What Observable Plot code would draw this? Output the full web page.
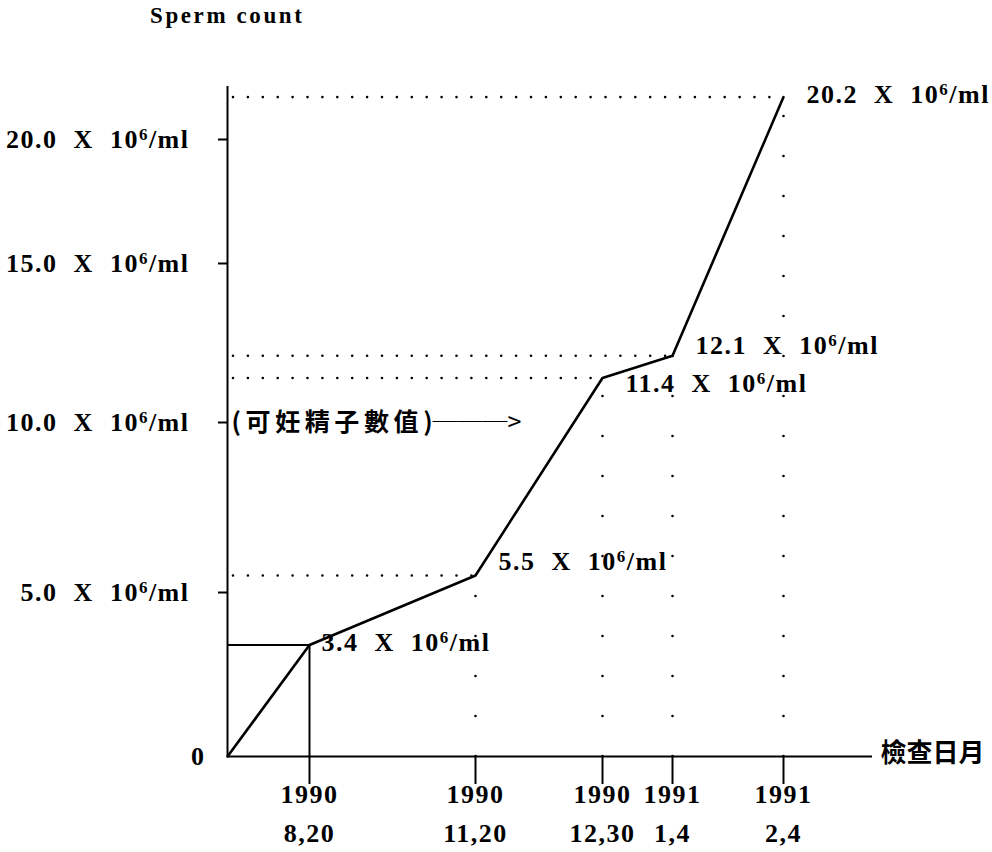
<!DOCTYPE html>
<html><head><meta charset="utf-8">
<script src="https://cdn.jsdelivr.net/npm/d3@7"></script>
<script src="https://cdn.jsdelivr.net/npm/@observablehq/plot@0.6"></script>
<style>
body{margin:0;background:#fff;}
#wrap{position:relative;width:992px;height:852px;}
#title{position:absolute;left:150px;top:3px;font-family:"Liberation Serif",serif;font-weight:bold;font-size:23px;letter-spacing:2.6px;color:#000;}
</style></head><body>
<div id="wrap"><div id="title">Sperm count</div></div>
<script>
// ---- data ----
const visitIndex = [0, 1, 2, 3, 4, 5];              // 0 = origin, 1..5 = test dates
const counts = [0, 3.4, 5.5, 11.4, 12.1, 20.2];      // sperm count, 10^6/ml
const years = ["1990", "1990", "1990", "1991", "1991"];
const monthDays = ["8,20", "11,20", "12,30", "1,4", "2,4"];
const yTicks = [5, 10, 15, 20];
const unitText = "\u00a0\u00a0X\u00a0\u00a010⁶/ml";
const xAxisLabel = "檢查日月";
const noteLabel = "(可妊精子數值)";
const noteArrow = "───>";
const noteLevel = 10;

const points = visitIndex.map((i, k) => ({i, v: counts[k]}));
const measured = points.slice(1);
const firstPoint = points.slice(1, 2);
const laterPoints = points.slice(2);

const FS = 26;
const cjk = "'Noto Sans CJK TC', 'Noto Sans CJK SC', sans-serif";
// label nudges (style only)
const labelDx = [12, 23, 23, 23, 23];
const labelDy = [-2, -14, 6, -10, -2];

const chart = Plot.plot({
  width: 992,
  height: 852,
  marginLeft: 227,
  marginRight: 120,
  marginTop: 86,
  marginBottom: 96,
  style: "font-family: 'Liberation Serif', serif; font-size: 26px; font-weight: bold; letter-spacing: 1.5px; background: white; color: black; overflow: visible;",
  x: {type: "linear", domain: [0, 1, 2, 3, 4, 5], range: [227, 309, 475, 602, 672, 783]},
  y: {type: "linear", domain: [0, 5, 10, 15, 20, 20.25], range: [756, 592, 422, 263, 139, 86]},
  marks: [
    // dotted guides
    Plot.ruleY(laterPoints, {x1: 0, x2: "i", y: "v", stroke: "black", strokeWidth: 2.6, strokeDasharray: "0,14.9", strokeLinecap: "round", strokeDashoffset: -6}),
    Plot.ruleX(laterPoints, {x: "i", y1: 0, y2: "v", stroke: "black", strokeWidth: 2.6, strokeDasharray: "0,40", strokeLinecap: "round"}),
    // solid guides for first visit
    Plot.ruleY(firstPoint, {x1: 0, x2: "i", y: "v", stroke: "black", strokeWidth: 2}),
    Plot.ruleX(firstPoint, {x: "i", y1: 0, y2: "v", stroke: "black", strokeWidth: 2}),
    // axes lines
    Plot.ruleY([0], {stroke: "black", strokeWidth: 2}),
    Plot.ruleX([0], {stroke: "black", strokeWidth: 2}),
    Plot.axisY({ticks: yTicks, tickSize: 9, tickPadding: 29, strokeWidth: 2, label: null,
      tickFormat: d => d.toFixed(1) + unitText, fontSize: FS, fontWeight: "bold"}),
    Plot.text([0], {x: 0, y: d => d, text: d => String(d), textAnchor: "end", dx: -22, fontSize: FS, fontWeight: "bold"}),
    Plot.axisX({ticks: [1, 2, 3, 4, 5], tickSize: 28, tickPadding: -9, strokeWidth: 2, label: null,
      tickFormat: i => years[i - 1] + "\n" + monthDays[i - 1], lineHeight: 1.5, fontSize: FS, fontWeight: "bold"}),
    Plot.text([xAxisLabel], {frameAnchor: "bottom-right", textAnchor: "start", lineAnchor: "middle", dx: 8, dy: -3, fontFamily: cjk, fontSize: 26, fontWeight: "bold"}),
    // the curve
    Plot.line(points, {x: "i", y: "v", stroke: "black", strokeWidth: 2.6}),
    // value labels
    ...measured.map((p, k) => Plot.text([p], {x: "i", y: "v", text: d => d.v.toFixed(1) + unitText, textAnchor: "start", dx: labelDx[k], dy: labelDy[k], fontSize: FS, fontWeight: "bold"})),
    // annotation
    Plot.text([noteLabel], {x: 0, y: noteLevel, text: d => d, textAnchor: "start", dx: 4, fontFamily: cjk, fontSize: 25, fontWeight: "bold"}),
    Plot.text([noteArrow], {x: 0, y: noteLevel, text: d => d, textAnchor: "start", dx: 205, fontFamily: cjk, fontSize: 25, fontWeight: "normal"})
  ]
});

// superscript "6" as a tspan; CJK letter-spacing
const SVGNS = "http://www.w3.org/2000/svg";
chart.querySelectorAll("text").forEach(t => {
  const s0 = t.textContent;
  if (s0 === noteLabel) t.style.letterSpacing = "4.6px";
  else if (s0 === noteArrow || s0 === xAxisLabel) t.style.letterSpacing = "0px";
  if (t.children.length === 0 && s0.includes("⁶")) {
    const [a, b] = s0.split("⁶");
    t.textContent = a;
    const s = document.createElementNS(SVGNS, "tspan");
    s.setAttribute("dy", "-8"); s.setAttribute("font-size", "17"); s.textContent = "6";
    const r = document.createElementNS(SVGNS, "tspan");
    r.setAttribute("dy", "8"); r.setAttribute("font-size", String(FS)); r.textContent = b;
    t.append(s, r);
  }
});
document.getElementById("wrap").prepend(chart);
</script>
</body></html>
